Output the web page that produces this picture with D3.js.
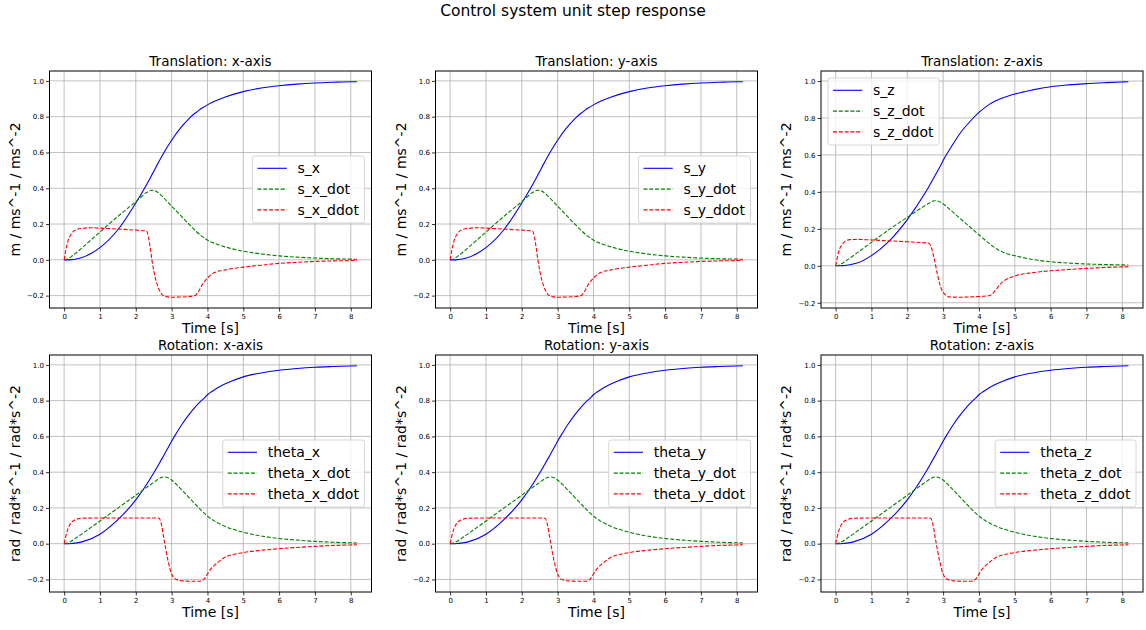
<!DOCTYPE html>
<html>
<head>
<meta charset="utf-8">
<script src="https://cdn.jsdelivr.net/npm/d3@7"></script>
<style>
  body { margin: 0; background: #fff; }
  svg { font-family: "DejaVu Sans", sans-serif; }
  .grid line { stroke: #b0b0b0; stroke-width: 0.8; }
  .axis path { display: none; }
  .axis line { stroke: #000; stroke-width: 0.8; }
  .axis text { font-size: 7px; fill: #000; font-family: "DejaVu Sans", sans-serif; }
</style>
</head>
<body>
<svg id="chart" width="1146" height="630"></svg>
<script>
// Translation x / y response (same shape)
var transTime = [0, 0.1, 0.2, 0.3, 0.5, 0.75, 1, 1.5, 2, 2.3, 2.35, 2.4, 2.45, 2.5, 2.6, 2.7, 2.8, 3, 3.25, 3.5, 3.65, 3.75, 3.85, 4, 4.2, 4.5, 5, 5.5, 6, 6.5, 7, 7.5, 8, 8.17];
var transPos  = [0, 0, 0.001, 0.003, 0.013, 0.035, 0.068, 0.168, 0.318, 0.42, 0.438, 0.456, 0.475, 0.494, 0.532, 0.569, 0.604, 0.668, 0.737, 0.792, 0.819, 0.834, 0.848, 0.866, 0.886, 0.91, 0.94, 0.96, 0.973, 0.982, 0.988, 0.992, 0.995, 0.995];
var transVel  = [0, 0.005, 0.018, 0.033, 0.067, 0.111, 0.155, 0.243, 0.325, 0.376, 0.382, 0.387, 0.389, 0.388, 0.379, 0.362, 0.342, 0.3, 0.248, 0.196, 0.166, 0.147, 0.131, 0.11, 0.092, 0.072, 0.048, 0.033, 0.022, 0.015, 0.01, 0.006, 0.004, 0.003];
var transAcc  = [0, 0.1, 0.145, 0.165, 0.176, 0.179, 0.177, 0.172, 0.166, 0.161, 0.13, 0.07, 0.0, -0.06, -0.14, -0.185, -0.203, -0.209, -0.208, -0.205, -0.2, -0.177, -0.14, -0.102, -0.071, -0.056, -0.041, -0.03, -0.02, -0.014, -0.009, -0.006, -0.004, -0.003];

// Translation z response
var transZTime = [0, 0.1, 0.2, 0.3, 0.4, 0.6, 1, 1.5, 2, 2.5, 2.6, 2.65, 2.75, 2.85, 2.95, 3.05, 3.2, 3.5, 3.75, 4, 4.3, 4.4, 4.5, 4.6, 4.8, 5, 5.5, 6, 6.5, 7, 7.5, 8, 8.17];
var transZPos  = [0, 0, 0.001, 0.003, 0.006, 0.015, 0.055, 0.135, 0.25, 0.395, 0.428, 0.445, 0.48, 0.515, 0.55, 0.587, 0.635, 0.724, 0.781, 0.83, 0.875, 0.886, 0.896, 0.904, 0.918, 0.93, 0.952, 0.969, 0.979, 0.986, 0.991, 0.995, 0.996];
var transZVel  = [0, 0.004, 0.015, 0.028, 0.042, 0.07, 0.127, 0.197, 0.263, 0.326, 0.338, 0.344, 0.352, 0.351, 0.342, 0.328, 0.303, 0.252, 0.21, 0.168, 0.119, 0.104, 0.091, 0.08, 0.064, 0.055, 0.034, 0.022, 0.015, 0.01, 0.007, 0.005, 0.004];
var transZAcc  = [0, 0.085, 0.12, 0.136, 0.142, 0.143, 0.14, 0.135, 0.13, 0.124, 0.122, 0.11, 0.04, -0.055, -0.125, -0.155, -0.169, -0.17, -0.168, -0.166, -0.161, -0.146, -0.122, -0.098, -0.07, -0.055, -0.037, -0.027, -0.02, -0.014, -0.009, -0.006, -0.005];

// Rotation x / y / z response (same shape)
var rotTime = [0, 0.1, 0.2, 0.3, 0.5, 1, 1.5, 2, 2.5, 2.65, 2.7, 2.8, 2.9, 3.0, 3.1, 3.3, 3.5, 3.8, 3.9, 4.0, 4.1, 4.2, 4.35, 4.5, 5, 5.5, 6, 6.5, 7, 7.5, 8, 8.17];
var rotPos  = [0, 0, 0.001, 0.003, 0.01, 0.053, 0.134, 0.245, 0.395, 0.447, 0.465, 0.5, 0.537, 0.573, 0.607, 0.671, 0.726, 0.795, 0.813, 0.833, 0.848, 0.861, 0.879, 0.894, 0.933, 0.955, 0.97, 0.98, 0.987, 0.991, 0.994, 0.995];
var rotVel  = [0, 0.004, 0.014, 0.027, 0.055, 0.127, 0.199, 0.271, 0.343, 0.364, 0.369, 0.373, 0.369, 0.356, 0.338, 0.297, 0.255, 0.192, 0.172, 0.154, 0.139, 0.126, 0.11, 0.096, 0.064, 0.043, 0.029, 0.02, 0.013, 0.008, 0.005, 0.004];
var rotAcc  = [0, 0.08, 0.118, 0.133, 0.142, 0.144, 0.144, 0.144, 0.144, 0.142, 0.12, 0.01, -0.095, -0.17, -0.197, -0.208, -0.21, -0.21, -0.2, -0.17, -0.14, -0.12, -0.095, -0.075, -0.05, -0.037, -0.028, -0.021, -0.015, -0.01, -0.007, -0.006];

// Texts and ticks
var figTitle = "Control system unit step response";
var panelTitles = ["Translation: x-axis", "Translation: y-axis", "Translation: z-axis",
                   "Rotation: x-axis", "Rotation: y-axis", "Rotation: z-axis"];
var legendLabels = [["s_x", "s_x_dot", "s_x_ddot"], ["s_y", "s_y_dot", "s_y_ddot"], ["s_z", "s_z_dot", "s_z_ddot"],
                    ["theta_x", "theta_x_dot", "theta_x_ddot"], ["theta_y", "theta_y_dot", "theta_y_ddot"], ["theta_z", "theta_z_dot", "theta_z_ddot"]];
var yLabels = ["m / ms^-1 / ms^-2", "rad / rad*s^-1 / rad*s^-2"];
var xLabel = "Time [s]";
var xTicks = [0, 1, 2, 3, 4, 5, 6, 7, 8];
var yTicks = [-0.2, 0, 0.2, 0.4, 0.6, 0.8, 1.0];

// Layout
var colLeft = [49.5, 435.5, 821];
var rowTop = [71, 355];
var pw = 322, ph = 237;
var colors = ["#0000ff", "#008000", "#ff0000"];
var dashes = [null, "4,1.8", "4,1.8"];
var legendLoc = ["right", "right", "upperleft", "right", "right", "right"];

var panelData = [
  [transTime, [transPos, transVel, transAcc]],
  [transTime, [transPos, transVel, transAcc]],
  [transZTime, [transZPos, transZVel, transZAcc]],
  [rotTime, [rotPos, rotVel, rotAcc]],
  [rotTime, [rotPos, rotVel, rotAcc]],
  [rotTime, [rotPos, rotVel, rotAcc]]
];

var svg = d3.select("#chart");

// Figure title
svg.append("text")
    .attr("x", 573)
    .attr("y", 16)
    .attr("text-anchor", "middle")
    .style("font-size", "15.5px")
    .text(figTitle);

// Pad a domain like matplotlib's 5% margins
function padded(lo, hi) {
  var m = (hi - lo) * 0.05;
  return [lo - m, hi + m];
}

panelData.forEach(function(pd, i) {
  var time = pd[0], series = pd[1];
  var left = colLeft[i % 3], top = rowTop[Math.floor(i / 3)];

  var g = svg.append("g")
      .attr("transform", "translate(" + left + "," + top + ")");

  var allVals = d3.merge(series);
  var x = d3.scaleLinear()
      .domain(padded(d3.min(time), d3.max(time)))
      .range([0, pw]);
  var y = d3.scaleLinear()
      .domain(padded(d3.min(allVals), d3.max(allVals)))
      .range([ph, 0]);

  // Grid lines
  var grid = g.append("g").attr("class", "grid");
  grid.selectAll(".gx").data(xTicks).enter().append("line")
      .attr("x1", d => x(d)).attr("x2", d => x(d))
      .attr("y1", 0).attr("y2", ph);
  grid.selectAll(".gy").data(yTicks).enter().append("line")
      .attr("x1", 0).attr("x2", pw)
      .attr("y1", d => y(d)).attr("y2", d => y(d));

  // Lines
  var line = d3.line()
      .x((d, k) => x(time[k]))
      .y(d => y(d))
      .curve(d3.curveMonotoneX);

  series.forEach(function(vals, s) {
    g.append("path")
        .attr("d", line(vals))
        .attr("fill", "none")
        .attr("stroke", colors[s])
        .attr("stroke-width", 1.1)
        .attr("stroke-dasharray", dashes[s]);
  });

  // Axes
  g.append("g")
      .attr("class", "axis")
      .attr("transform", "translate(0," + ph + ")")
      .call(d3.axisBottom(x).tickValues(xTicks).tickSize(3.5).tickPadding(2.8).tickFormat(d3.format("d")));
  g.append("g")
      .attr("class", "axis")
      .call(d3.axisLeft(y).tickValues(yTicks).tickSize(3.5).tickPadding(2).tickFormat(d3.format(".1f")));

  // Frame
  g.append("rect")
      .attr("width", pw).attr("height", ph)
      .attr("fill", "none")
      .attr("stroke", "#000")
      .attr("stroke-width", 1);

  // Titles and labels
  g.append("text")
      .attr("x", pw / 2).attr("y", -5.5)
      .attr("text-anchor", "middle")
      .style("font-size", "13.5px")
      .text(panelTitles[i]);
  g.append("text")
      .attr("x", pw / 2).attr("y", ph + 25)
      .attr("text-anchor", "middle")
      .style("font-size", "14px")
      .text(xLabel);
  g.append("text")
      .attr("transform", "translate(-30," + (ph / 2) + ") rotate(-90)")
      .attr("text-anchor", "middle")
      .style("font-size", "14px")
      .text(yLabels[Math.floor(i / 3)]);

  // Legend
  var lg = g.append("g");
  var box = lg.append("rect")
      .attr("rx", 2.5)
      .attr("fill", "#fff")
      .attr("fill-opacity", 0.8)
      .attr("stroke", "#cccccc")
      .attr("stroke-width", 0.8);
  var maxW = 0;
  legendLabels[i].forEach(function(lbl, s) {
    var cy = 12.3 + s * 20.8;
    lg.append("line")
        .attr("x1", 5).attr("x2", 34.3)
        .attr("y1", cy).attr("y2", cy)
        .attr("stroke", colors[s])
        .attr("stroke-width", 1.1)
        .attr("stroke-dasharray", dashes[s]);
    var t = lg.append("text")
        .attr("x", 45).attr("y", cy + 4.6)
        .style("font-size", "14px")
        .text(lbl);
    maxW = Math.max(maxW, t.node().getComputedTextLength());
  });
  var bw = 45 + maxW + 5.6, bh = 67;
  box.attr("width", bw).attr("height", bh);
  var lx, ly;
  if (legendLoc[i] === "upperleft") {
    lx = 7; ly = 7;
  } else {
    lx = pw - 7 - bw; ly = (ph - bh) / 2;
  }
  lg.attr("transform", "translate(" + lx + "," + ly + ")");
});
</script>
</body>
</html>
